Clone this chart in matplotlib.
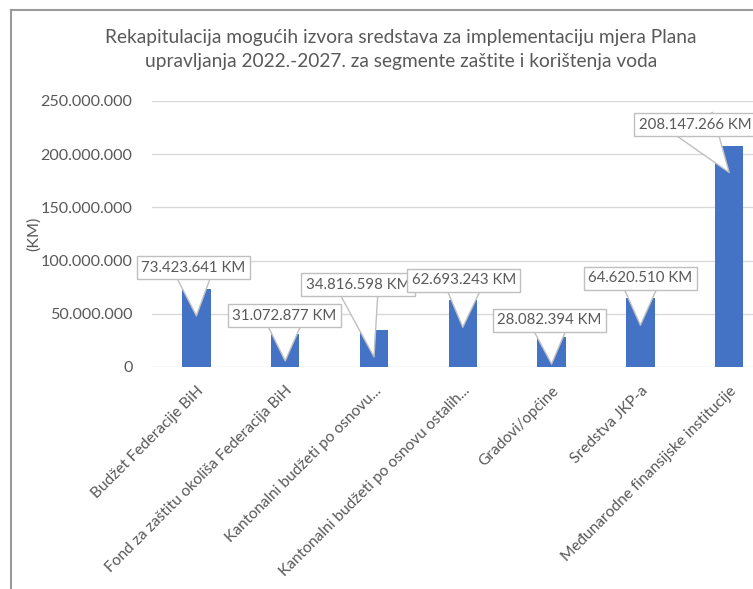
import matplotlib
matplotlib.use("Agg")
import matplotlib.pyplot as plt
import matplotlib.transforms as mtransforms
from matplotlib.lines import Line2D
from matplotlib.ticker import FuncFormatter, MultipleLocator

plt.rcParams['font.family'] = ['Lato', 'DejaVu Sans']

################################################################################
#  Data
################################################################################

categories = [
    "Budžet Federacije BiH",
    "Fond za zaštitu okoliša Federacija BiH",
    "Kantonalni budžeti po osnovu...",
    "Kantonalni budžeti po osnovu ostalih...",
    "Gradovi/općine",
    "Sredstva JKP-a",
    "Međunarodne finansijske institucije",
]
amounts_km = [73423641, 31072877, 34816598, 62693243, 28082394, 64620510, 208147266]

title = ("Rekapitulacija mogućih izvora sredstava za implementaciju mjera Plana\n"
         "upravljanja 2022.-2027. za segmente zaštite i korištenja voda")

# where each callout box sits, relative to its pointer tip (pixels)
label_offsets = [(-3, 48), (-1, 45), (-16, 72), (1, 47), (-2, 44), (0, 47), (-34, 48)]

TEXT = "#595959"
BAR = "#4472C4"
GRID = "#D9D9D9"


def dotted(v):
    return f"{int(v):,}".replace(",", ".")


################################################################################
#  Figure
################################################################################

fig = plt.figure(figsize=(7.53, 5.89), dpi=100)
W, H = 753, 589

# chart area frame (top and left edges)
fig.add_artist(Line2D([11 / W, 11 / W], [0, 1 - 10 / H], transform=fig.transFigure,
                      color="#9A9A9A", lw=1.5))
fig.add_artist(Line2D([11 / W, 1], [1 - 10 / H, 1 - 10 / H], transform=fig.transFigure,
                      color="#9A9A9A", lw=1.5))

fig.text(401 / W, 1 - 50 / H, title, ha="center", va="center", fontsize=13.8,
         color=TEXT, linespacing=1.5)

ax = fig.add_axes([152 / W, (H - 367) / H, 621.6 / W, 266 / H])
x = range(len(categories))
ax.bar(x, amounts_km, width=0.32, color=BAR, zorder=2)

ax.set_xlim(-0.5, len(categories) - 0.5)
ax.set_ylim(0, 250000000)
ax.yaxis.set_major_locator(MultipleLocator(50000000))
ax.yaxis.set_major_formatter(FuncFormatter(lambda v, _: dotted(v)))
ax.grid(axis="y", color=GRID, lw=1, zorder=0)
for s in ax.spines.values():
    s.set_visible(False)
ax.tick_params(axis="both", length=0, colors=TEXT)
ax.tick_params(axis="y", pad=14, labelsize=11.6)
ax.tick_params(axis="x", pad=12, labelsize=11.2)
ax.set_xticks(list(x))
ax.set_xticklabels(categories, rotation=45, ha="right", rotation_mode="anchor")
ax.set_ylabel("(KM)", color=TEXT, fontsize=11.6)
ax.yaxis.set_label_coords(-0.178, 0.5)

# callout labels with a wedge pointing into each bar
tip_transform = mtransforms.offset_copy(ax.transData, fig=fig, y=-27, units="dots")
for i, v in enumerate(amounts_km):
    dx, dy = label_offsets[i]
    ax.annotate(
        f"{dotted(v)} KM",
        xy=(i, v), xycoords=tip_transform,
        xytext=(dx, dy), textcoords="offset pixels",
        ha="center", va="center", fontsize=10.8, color=TEXT,
        bbox=dict(boxstyle="square,pad=0.3", fc="white", ec="#BFBFBF", lw=1),
        arrowprops=dict(arrowstyle="wedge,tail_width=1.9,shrink_factor=0.5",
                        fc="white", ec="#BFBFBF", lw=1, patchA=None,
                        mutation_scale=16, shrinkA=0, shrinkB=0),
        zorder=5, annotation_clip=False,
    )

fig.savefig("out.png", dpi=100)
